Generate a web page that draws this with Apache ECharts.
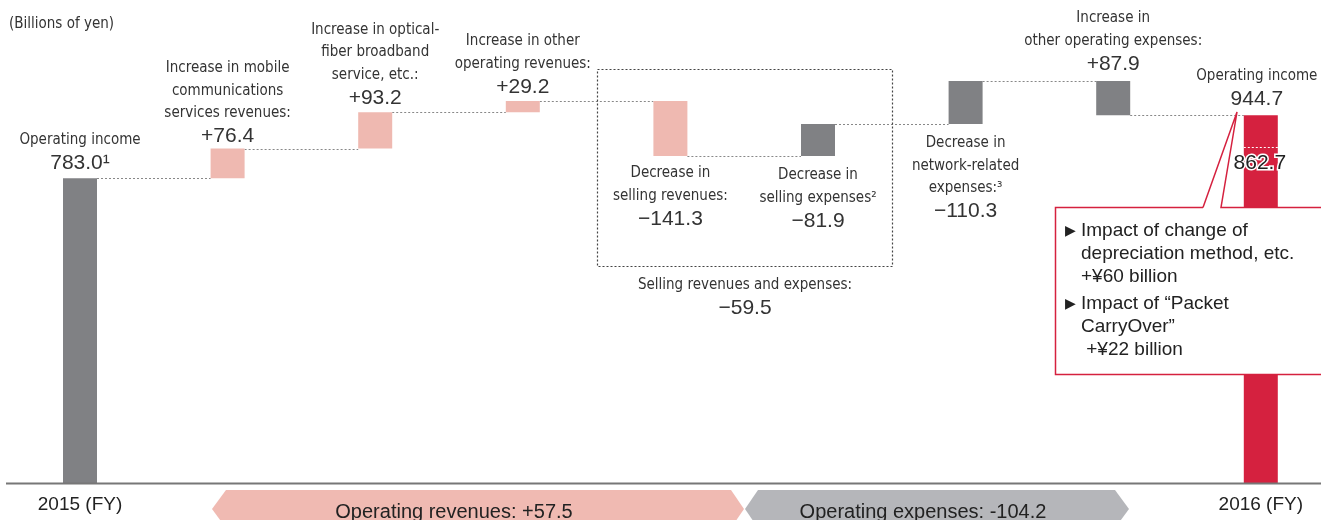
<!DOCTYPE html>
<html><head><meta charset="utf-8">
<script src="https://cdn.jsdelivr.net/npm/echarts@6/dist/echarts.min.js"></script>
<style>html,body{margin:0;padding:0;background:#fff}#c{width:1321px;height:520px}</style>
</head><body><div id="c"></div>
<script>
// ---------------- data ----------------
const categories = ['2015 (FY)', 'Mobile communications services revenues', 'Optical-fiber broadband service', 'Other operating revenues', 'Selling revenues', 'Selling expenses', 'Network-related expenses', 'Other operating expenses', '2016 (FY)'];
const startValue = 783.0;
const endValue = 944.7;
// effect of each item on operating income (billions of yen)
const deltas = [76.4, 93.2, 29.2, -141.3, 81.9, 110.3, -87.9];
const kinds = ['total', 'revenue', 'revenue', 'revenue', 'revenue', 'expense', 'expense', 'expense', 'final'];
const descriptions = [
  ['Operating income'],
  ['Increase in mobile', 'communications', 'services revenues:'],
  ['Increase in optical-', 'fiber broadband', 'service, etc.:'],
  ['Increase in other', 'operating revenues:'],
  ['Decrease in', 'selling revenues:'],
  ['Decrease in', 'selling expenses²'],
  ['Decrease in', 'network-related', 'expenses:³'],
  ['Increase in', 'other operating expenses:'],
  ['Operating income']
];
const valueLabels = ['783.0¹', '+76.4', '+93.2', '+29.2', '−141.3', '−81.9', '−110.3', '+87.9', '944.7'];
const incomeExclImpacts = 862.7;
const groupLabel = ['Selling revenues and expenses:', '−59.5'];
const revenueTotal = 'Operating revenues: +57.5';
const expenseTotal = 'Operating expenses: -104.2';
const calloutLines1 = ['Impact of change of', 'depreciation method, etc.', '+¥60 billion'];
const calloutLines2 = ['Impact of “Packet', 'CarryOver”', ' +¥22 billion'];

// ---------------- styles ----------------
const NARROW = "'Liberation Sans Narrow','Arial Narrow','DejaVu Sans Condensed',sans-serif";
const REG = "'Liberation Sans',Arial,Helvetica,sans-serif";
const colors = { total: '#808184', revenue: '#EFB9B1', expense: '#808184', final: '#D5213F' };
const TXT = '#333';

// waterfall computation
const bases = [0], heights = [startValue], levels = [startValue];
let level = startValue;
deltas.forEach(d => {
  bases.push(d >= 0 ? level : level + d);
  heights.push(Math.abs(d));
  level += d;
  levels.push(level);
});
bases.push(0); heights.push(endValue);

const labelCfg = [
  { pos: 'top', dist: 3, dx: 0 },
  { pos: 'top', dist: 0, dx: 0 },
  { pos: 'top', dist: 2, dx: 0 },
  { pos: 'top', dist: 2, dx: 0 },
  { pos: 'bottom', dist: 6, dx: 0 },
  { pos: 'bottom', dist: 8, dx: 0 },
  { pos: 'bottom', dist: 8, dx: 0 },
  { pos: 'top', dist: 5, dx: 0 },
  { pos: 'top', dist: 4, dx: -4 }
];

const valueData = heights.map((h, i) => ({
  value: h,
  itemStyle: { color: colors[kinds[i]] },
  label: {
    show: true,
    position: labelCfg[i].pos,
    distance: labelCfg[i].dist,
    offset: [labelCfg[i].dx, 0],
    formatter: descriptions[i].map(l => '{d|' + l + '}').join('\n') + '\n{v|' + valueLabels[i] + '}'
  }
}));

const chart = echarts.init(document.getElementById('c'), null, { renderer: 'canvas' });

const option = {
  animation: false,
  backgroundColor: '#fff',
  title: {
    text: '(Billions of yen)', left: 4, top: 12,
    textStyle: { fontFamily: NARROW, fontSize: 15, fontWeight: 'normal', color: TXT }
  },
  grid: { left: 80, right: 60.2, top: 16, bottom: 37 },
  xAxis: {
    type: 'category', data: categories, boundaryGap: false,
    axisLine: { show: false },
    axisTick: { show: false },
    splitLine: { show: false },
    axisLabel: {
      interval: 0, margin: 12, fontFamily: REG, fontSize: 19, color: '#222',
      showMinLabel: true, showMaxLabel: true, hideOverlap: false,
      formatter: (v, i) => (i === 0 || i === categories.length - 1) ? v : ''
    }
  },
  yAxis: { type: 'value', min: 0, max: 1200, show: false },
  series: [
    {
      type: 'custom', name: 'connectors', z: 1, clip: false,
      data: levels.map((v, i) => [i, v]),
      renderItem: (params, api) => {
        const i = api.value(0), v = api.value(1);
        const p1 = api.coord([i, v]), p2 = api.coord([i + 1, v]);
        return {
          type: 'line',
          shape: { x1: p1[0] + 17, y1: Math.round(p1[1]) + 0.5, x2: p2[0] - 17, y2: Math.round(p1[1]) + 0.5 },
          style: { stroke: '#888', lineWidth: 1, lineDash: [2, 2] }
        };
      }
    },
    {
      type: 'bar', name: 'base', stack: 'w', barWidth: 34, z: 2, clip: false,
      itemStyle: { color: 'transparent' }, data: bases, silent: true
    },
    {
      type: 'bar', name: 'value', stack: 'w', barWidth: 34, z: 3, clip: false,
      data: valueData,
      label: {
        color: TXT, align: 'center',
        rich: {
          d: { fontFamily: NARROW, fontSize: 15, lineHeight: 22.5, color: TXT, align: 'center' },
          v: { fontFamily: REG, fontSize: 21, lineHeight: 24, color: TXT, align: 'center' }
        }
      }
    },
    {
      type: 'custom', name: 'inner', z: 5, clip: false,
      data: [[categories.length - 1, incomeExclImpacts]],
      renderItem: (params, api) => {
        const p = api.coord([api.value(0), api.value(1)]);
        const y = Math.round(p[1]) + 0.5;
        return {
          type: 'group', children: [
            { type: 'line', shape: { x1: p[0] - 17, y1: y, x2: p[0] + 17, y2: y }, style: { stroke: '#fff', lineWidth: 1, lineDash: [2, 2] } },
            { type: 'text', style: { text: String(api.value(1).toFixed(1)), x: p[0] - 1, y: y + 16, align: 'center', verticalAlign: 'middle', font: '21px ' + REG, fill: '#222', stroke: '#fff', lineWidth: 3 } }
          ]
        };
      }
    },
    {
      type: 'custom', name: 'group', z: 4, clip: false,
      encode: { x: [0, 2], y: [1, 3] },
      data: [[4, 1064, 5, 558]],
      renderItem: (params, api) => {
        const a = api.coord([api.value(0), api.value(1)]);
        const b = api.coord([api.value(2), api.value(3)]);
        const band = b[0] - a[0];
        const x1 = Math.round(a[0] - band / 2) + 0.5, x2 = Math.round(b[0] + band / 2) + 0.5;
        const y1 = Math.round(a[1]) + 0.5, y2 = Math.round(b[1]) + 0.5;
        const cx = (x1 + x2) / 2;
        return {
          type: 'group', children: [
            { type: 'rect', shape: { x: x1, y: y1, width: x2 - x1, height: y2 - y1 }, style: { fill: 'none', stroke: '#444', lineWidth: 1.2, lineDash: [2, 2] } },
            { type: 'text', style: { text: groupLabel[0], x: cx, y: y2 + 19, align: 'center', verticalAlign: 'middle', font: '15px ' + NARROW, fill: TXT } },
            { type: 'text', style: { text: groupLabel[1], x: cx, y: y2 + 42, align: 'center', verticalAlign: 'middle', font: '21px ' + REG, fill: TXT } }
          ]
        };
      }
    }
  ],
  graphic: [
    // baseline axis line across the full width
    { type: 'line', z: 5, shape: { x1: 6, y1: 483.5, x2: 1321, y2: 483.5 }, style: { stroke: '#777', lineWidth: 2 } },
    // bottom bands
    { type: 'polygon', z: 10, shape: { points: [[212, 509], [226, 490], [731, 490], [744, 509], [731, 528], [226, 528]] }, style: { fill: '#F0BAB2' } },
    { type: 'polygon', z: 10, shape: { points: [[745, 509], [758, 490], [1115, 490], [1129, 509], [1115, 528], [758, 528]] }, style: { fill: '#B5B6BA' } },
    { type: 'text', z: 11, style: { text: revenueTotal, x: 454, y: 512, align: 'center', verticalAlign: 'middle', font: '20px ' + REG, fill: '#222' } },
    { type: 'text', z: 11, style: { text: expenseTotal, x: 923, y: 512, align: 'center', verticalAlign: 'middle', font: '20px ' + REG, fill: '#222' } },
    // callout
    { type: 'rect', z: 20, shape: { x: 1055, y: 207, width: 300, height: 167 }, style: { fill: '#fff' } },
    { type: 'polyline', z: 21, shape: { points: [[1203, 207.5], [1055.5, 207.5], [1055.5, 374.5], [1330, 374.5]] }, style: { stroke: '#D5213F', lineWidth: 1.5, fill: 'none' } },
    { type: 'polyline', z: 21, shape: { points: [[1203, 207.5], [1237, 112], [1221, 207.5], [1330, 207.5]] }, style: { stroke: '#D5213F', lineWidth: 1.5, fill: 'none' } },
    { type: 'text', z: 22, style: { text: '▶', x: 1065, y: 231, verticalAlign: 'middle', font: '14px DejaVu Sans', fill: '#222' } },
    { type: 'text', z: 22, style: { text: '▶', x: 1065, y: 304, verticalAlign: 'middle', font: '14px DejaVu Sans', fill: '#222' } },
    { type: 'text', z: 22, style: { text: calloutLines1.join('\n'), x: 1081, y: 219.5, verticalAlign: 'top', font: '19px ' + REG, lineHeight: 23, fill: '#222' } },
    { type: 'text', z: 22, style: { text: calloutLines2.join('\n'), x: 1081, y: 292.5, verticalAlign: 'top', font: '19px ' + REG, lineHeight: 23, fill: '#222' } }
  ]
};
chart.setOption(option);
</script>
</body></html>
